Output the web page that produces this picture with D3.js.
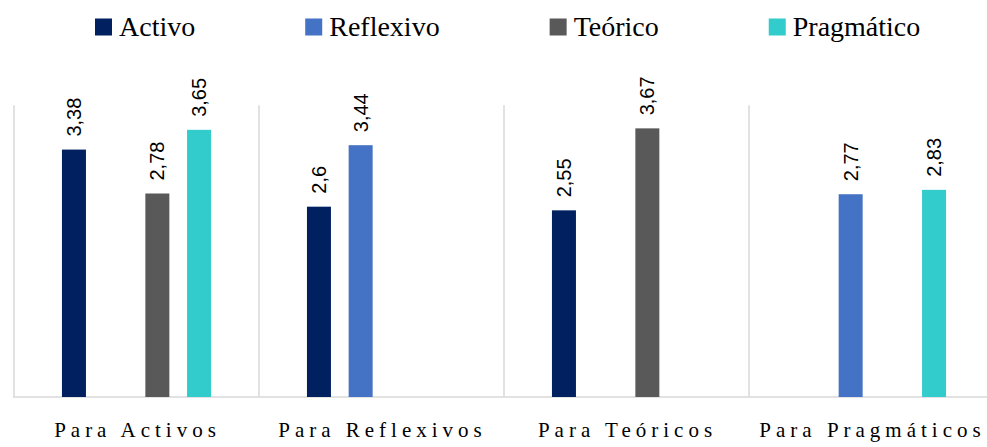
<!DOCTYPE html>
<html>
<head>
<meta charset="utf-8">
<script src="https://cdn.jsdelivr.net/npm/d3@7"></script>
<style>
  html, body { margin: 0; padding: 0; background: #fff; }
  svg { display: block; }
</style>
</head>
<body>
<svg id="chart" width="987" height="447"></svg>
<script>
// ---- data ----
const categories = ["Para Activos", "Para Reflexivos", "Para Teóricos", "Para Pragmáticos"];
const seriesNames = ["Activo", "Reflexivo", "Teórico", "Pragmático"];
const activo     = [3.38, 2.6, 2.55, null];
const reflexivo  = [null, 3.44, null, 2.77];
const teorico    = [2.78, null, 3.67, null];
const pragmatico = [3.65, null, null, 2.83];
const seriesColors = ["#002060", "#4472C4", "#595959", "#33CCCC"];
const yDomain = [0, 4];

const seriesValues = [activo, reflexivo, teorico, pragmatico];

// ---- layout ----
const svg = d3.select("#chart");
const plotLeft = 14, plotRight = 994, plotTop = 104.2, plotBottom = 397;

const x0 = d3.scaleBand().domain(categories).range([plotLeft, plotRight]).paddingInner(0).paddingOuter(0);
const x1 = d3.scaleBand().domain(seriesNames).range([0, x0.bandwidth()])
  .paddingInner(0.4245).paddingOuter(1.15);
const y = d3.scaleLinear().domain(yDomain).range([plotBottom, plotTop]);
const color = d3.scaleOrdinal().domain(seriesNames).range(seriesColors);

// separators / left line
const seps = categories.map(c => x0(c));
svg.append("g").selectAll("line").data(seps).join("line")
  .attr("x1", d => d).attr("x2", d => d)
  .attr("y1", plotTop + 1).attr("y2", plotBottom)
  .attr("stroke", "#d9d9d9").attr("stroke-width", 1.5);

// baseline
svg.append("line")
  .attr("x1", plotLeft - 1).attr("x2", 987)
  .attr("y1", plotBottom).attr("y2", plotBottom)
  .attr("stroke", "#d9d9d9").attr("stroke-width", 1.5);

// bars
const flat = [];
categories.forEach((c, i) => {
  seriesNames.forEach((s, j) => {
    const v = seriesValues[j][i];
    if (v != null) flat.push({cat: c, series: s, value: v});
  });
});

svg.append("g").selectAll("rect").data(flat).join("rect")
  .attr("x", d => x0(d.cat) + x1(d.series))
  .attr("y", d => y(d.value))
  .attr("width", x1.bandwidth())
  .attr("height", d => y(0) - y(d.value))
  .attr("fill", d => color(d.series));

// value labels (rotated, via group wrapper)
const lblG = svg.append("g").selectAll("g").data(flat).join("g")
  .attr("transform", d => "translate(" + (x0(d.cat) + x1(d.series) + x1.bandwidth() / 2 + 7) + "," + (y(d.value) - 13) + ") rotate(-90)");
lblG.append("text")
  .attr("x", 0).attr("y", 0)
  .attr("text-anchor", "start")
  .style("font-family", "'Liberation Sans', Arial, sans-serif")
  .style("font-size", "20px")
  .attr("fill", "#000")
  .text(d => String(d.value).replace(".", ","));

// category labels
svg.append("g").selectAll("text").data(categories).join("text")
  .attr("x", d => x0(d) + x0.bandwidth() / 2 + 1)
  .attr("y", 437)
  .attr("text-anchor", "middle")
  .attr("font-family", "'Liberation Serif', 'Times New Roman', serif")
  .attr("font-size", 21)
  .attr("letter-spacing", "5px")
  .attr("fill", "#000")
  .text(d => d);

// legend
const legend = svg.append("g");
let lx = 95;
seriesNames.forEach((s, i) => {
  const g = legend.append("g");
  g.append("rect").attr("x", lx).attr("y", 18.5).attr("width", 17).attr("height", 17)
    .attr("fill", color(s));
  const t = g.append("text").attr("x", lx + 24).attr("y", 35.5)
    .attr("font-family", "'Liberation Serif', 'Times New Roman', serif")
    .attr("font-size", 28).attr("fill", "#000").text(s);
  lx = lx + 24 + t.node().getComputedTextLength() + 110;
});
</script>
</body>
</html>
